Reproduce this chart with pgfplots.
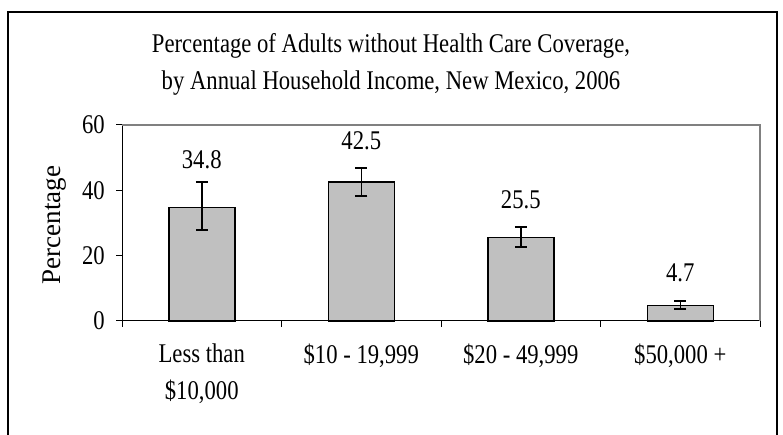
\documentclass[border=0pt]{standalone}
\usepackage{pgfplots}
\pgfplotsset{compat=1.18}
\usepackage{pgfplotstable}
\usepackage{fontspec}
\setmainfont{Liberation Serif}[FakeStretch=0.84]
\newfontfamily\ylabfont{Liberation Serif}
\definecolor{barfill}{HTML}{C0C0C0}
\definecolor{framegray}{HTML}{808080}

\pgfplotstableread{
x y ep em
0 34.8 7.8 6.9
1 42.5 4.4 4.2
2 25.5 3.2 2.8
3 4.7 1.4 1.1
}\datatable

\newcommand{\bigfont}{\fontsize{27bp}{37bp}\selectfont}

\begin{document}
\bigfont
\begin{tikzpicture}[x=1bp,y=1bp]
\path[use as bounding box] (0,0) rectangle (783,435);
\clip (0,0) rectangle (783,435);
\draw[line width=1.5bp] (8,-10) -- (8,423) -- (777,423) -- (777,-10);
\node[anchor=base] at (391,382) {Percentage of Adults without Health Care Coverage,};
\node[anchor=base] at (391,345) {by Annual Household Income, New Mexico, 2006};
\begin{axis}[
  at={(122bp,114bp)}, anchor=south west,
  scale only axis, width=638bp, height=196bp,
  xmin=-0.5, xmax=3.5, ymin=0, ymax=60,
  axis x line*=bottom, axis y line*=left,
  axis line style={line width=1bp, black},
  tick align=outside,
  ytick={0,20,40,60},
  major tick length=6bp,
  minor tick length=6bp,
  tick style={black, line width=1bp},
  xtick={0,1,2,3},
  xticklabels={{Less than\\\$10,000},{\$10 - 19,999},{\$20 - 49,999},{\$50,000 +}},
  x tick style={draw=none},
  minor xtick={-0.5,0.5,1.5,2.5,3.5},
  minor x tick style={draw=black, line width=1bp},
  xticklabel style={align=center, anchor=north, font=\bigfont, yshift=-8bp},
  yticklabel style={font=\bigfont, xshift=-2bp},
  /pgf/number format/assume math mode=true,
  ylabel={Percentage},
  every axis y label/.style={at={(axis description cs:-0.106,0.49)}, rotate=90, anchor=center, font=\ylabfont\fontsize{27bp}{32bp}\selectfont},
  clip=false,
]
\draw[framegray, line width=1.5bp] (rel axis cs:0,1) -- (rel axis cs:1,1) -- (rel axis cs:1,0);
\addplot[ybar, bar width=66bp, fill=barfill, draw=black, line width=1.5bp,
  error bars/.cd, y dir=both, y explicit,
  error bar style={line width=1.5bp, black},
  error mark options={rotate=90, mark size=6bp, line width=1.5bp, black}]
  table[x=x, y=y, y error plus=ep, y error minus=em]{\datatable};
\node at (axis cs:0,49.3) {34.8};
\node at (axis cs:1,55.1) {42.5};
\node at (axis cs:2,37.0) {25.5};
\node at (axis cs:3,14.7) {4.7};
\end{axis}
\end{tikzpicture}
\end{document}
